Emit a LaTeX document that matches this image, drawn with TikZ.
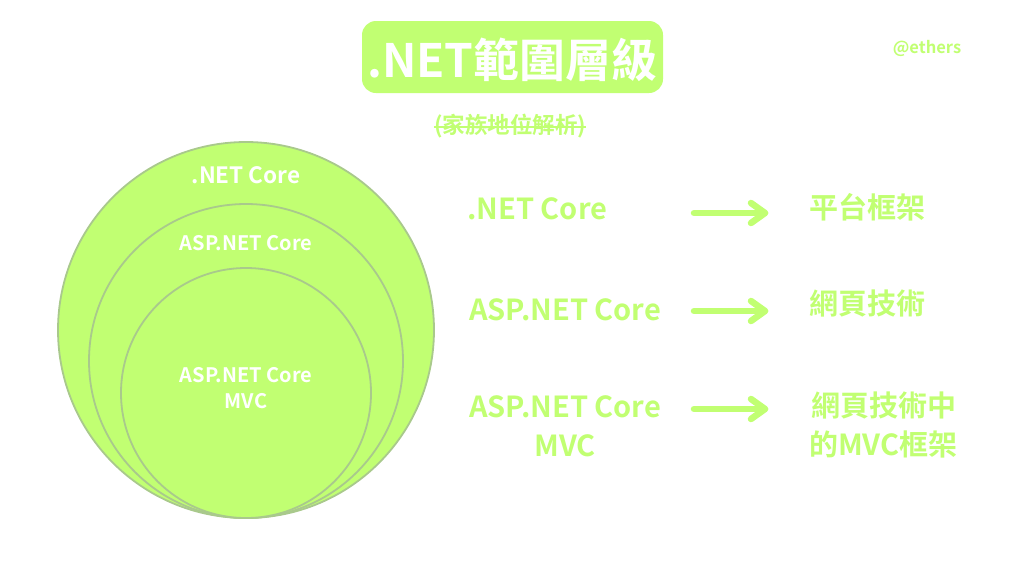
\documentclass[tikz,border=0pt]{standalone}
\usepackage{fontspec}
\setmainfont{Noto Sans CJK TC}[BoldFont={Noto Sans CJK TC Bold}]
\definecolor{lime}{HTML}{C1FF72}
\definecolor{rimc}{HTML}{A9C98C}
\begin{document}
\begin{tikzpicture}[x=1pt,y=-1pt,
  ring/.style={fill=lime,draw=rimc,line width=1.8pt},
  intext/.style={text=white,font=\bfseries,inner sep=0pt,anchor=base},
  gtext/.style={text=lime,font=\bfseries,inner sep=0pt},
  big/.style={font=\bfseries\fontsize{29}{31}\selectfont},
  arr/.style={draw=lime,line width=6.5pt,line cap=round,line join=round}]
\useasboundingbox (0,0) rectangle (1024,576);
\fill[white] (0,0) rectangle (1024,576);
% title
\node[fill=lime,rounded corners=14pt,minimum width=301pt,minimum height=72pt,inner sep=0pt] (titlebox) at (512.5,57) {};
\node[intext,font=\bfseries\fontsize{46}{50}\selectfont] (title) at (512.5,77) {.NET範圍層級};
\node[gtext,anchor=base,font=\bfseries\fontsize{22.5}{24}\selectfont] (sub) at (510,133) {(家族地位解析)};
\draw[lime,line width=2pt] (sub.west |- 0,126.5) coordinate (s1) -- (sub.east |- 0,126.5) coordinate (s2);
\node[gtext,anchor=base,font=\bfseries\fontsize{16.5}{18}\selectfont] (sig) at (927,53) {@ethers};
% circles
\draw[ring] (246,330) circle (188);
\draw[ring] (246,361) circle (157);
\draw[ring] (246,393) circle (125);
\node[intext,font=\bfseries\fontsize{22.5}{24}\selectfont] (c1) at (246,183) {.NET Core};
\node[intext,font=\bfseries\fontsize{20}{22}\selectfont] (c2) at (246,250) {ASP.NET Core};
\node[intext,font=\bfseries\fontsize{20}{22}\selectfont] (c3) at (246,382) {ASP.NET Core};
\node[intext,font=\bfseries\fontsize{20}{22}\selectfont] (c3b) at (246,408) {MVC};
% left labels
\node[gtext,big,anchor=base west] (l1) at (467,219) {.NET Core};
\node[gtext,big,anchor=base west] (l2) at (469,320) {ASP.NET Core};
\node[gtext,big,anchor=base west] (l3) at (469,417) {ASP.NET Core};
\node[gtext,big,anchor=base] (l3b) at (l3.base |- 0,456) {MVC};
% right labels
\node[gtext,big,anchor=base west] (r1) at (809,218) {平台框架};
\node[gtext,big,anchor=base west] (r2) at (809,314) {網頁技術};
\node[gtext,big,anchor=base west] (r3) at (811,416) {網頁技術中};
\node[gtext,big,anchor=base west] (r3b) at (809,455) {的MVC框架};
% arrows
\foreach \n/\y in {1/213,2/311,3/409}{
  \coordinate (a\n s) at (694,\y);
  \coordinate (a\n e) at (765,\y);
  \draw[arr] (a\n s) -- (a\n e);
  \draw[arr] ([xshift=-14pt,yshift=-10pt]a\n e) -- (a\n e) -- ([xshift=-14pt,yshift=10pt]a\n e);
}
\end{tikzpicture}
\end{document}
